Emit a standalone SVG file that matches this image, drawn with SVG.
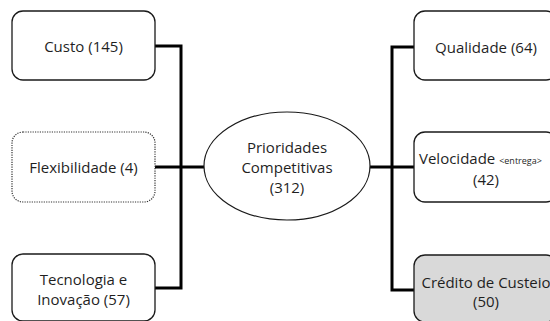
<svg xmlns="http://www.w3.org/2000/svg" width="550" height="321" viewBox="0 0 550 321">
<style>
.box{fill:#ffffff;stroke:#1a1a1a;stroke-width:1.3}
.dot{fill:#ffffff;stroke:#333333;stroke-width:1.2;stroke-dasharray:1.2 1.2}
.gray{fill:#d9d9d9;stroke:#1a1a1a;stroke-width:1.3}
.t{font-family:"Open Sans","Noto Sans",sans-serif;font-size:15px;fill:#1f1f1f;text-anchor:middle}
.conn{fill:none;stroke:#000000;stroke-width:3}
</style>
<rect width="550" height="321" fill="#ffffff"/>
<g id="connectors">
<polyline class="conn" points="155,46 181,46 181,288 155,288"/>
<line class="conn" x1="155" y1="167" x2="204" y2="167"/>
<polyline class="conn" points="414,47 392,47 392,290 414,290"/>
<line class="conn" x1="369" y1="167" x2="414" y2="167"/>
</g>
<g id="custo">
<rect class="box" x="12" y="11" width="143" height="69" rx="11"/>
<text class="t" x="83.5" y="51.5">Custo (145)</text>
</g>
<g id="flexibilidade">
<rect class="dot" x="12" y="132" width="143" height="70" rx="11"/>
<text class="t" x="83.5" y="172.5">Flexibilidade (4)</text>
</g>
<g id="tecnologia">
<rect class="box" x="12" y="254" width="143" height="67" rx="11"/>
<text class="t" x="83.5" y="285">Tecnologia e</text>
<text class="t" x="83.5" y="305">Inovação (57)</text>
</g>
<g id="prioridades">
<ellipse cx="287" cy="166" rx="83" ry="54" fill="#ffffff" stroke="#1a1a1a" stroke-width="1.2"/>
<text class="t" x="287" y="153">Prioridades</text>
<text class="t" x="287" y="172.5">Competitivas</text>
<text class="t" x="287" y="192.5">(312)</text>
</g>
<g id="qualidade">
<rect class="box" x="414" y="11" width="143" height="69" rx="11"/>
<text class="t" x="486" y="52.5">Qualidade (64)</text>
</g>
<g id="velocidade">
<rect class="box" x="414" y="132" width="143" height="70" rx="11"/>
<text class="t" x="419" y="164" style="text-anchor:start">Velocidade <tspan font-size="9">&lt;entrega&gt;</tspan></text>
<text class="t" x="486" y="185">(42)</text>
</g>
<g id="credito">
<rect class="gray" x="414" y="255" width="143" height="67" rx="11"/>
<text class="t" x="486" y="287.5">Crédito de Custeio</text>
<text class="t" x="486" y="306.5">(50)</text>
</g>
</svg>
